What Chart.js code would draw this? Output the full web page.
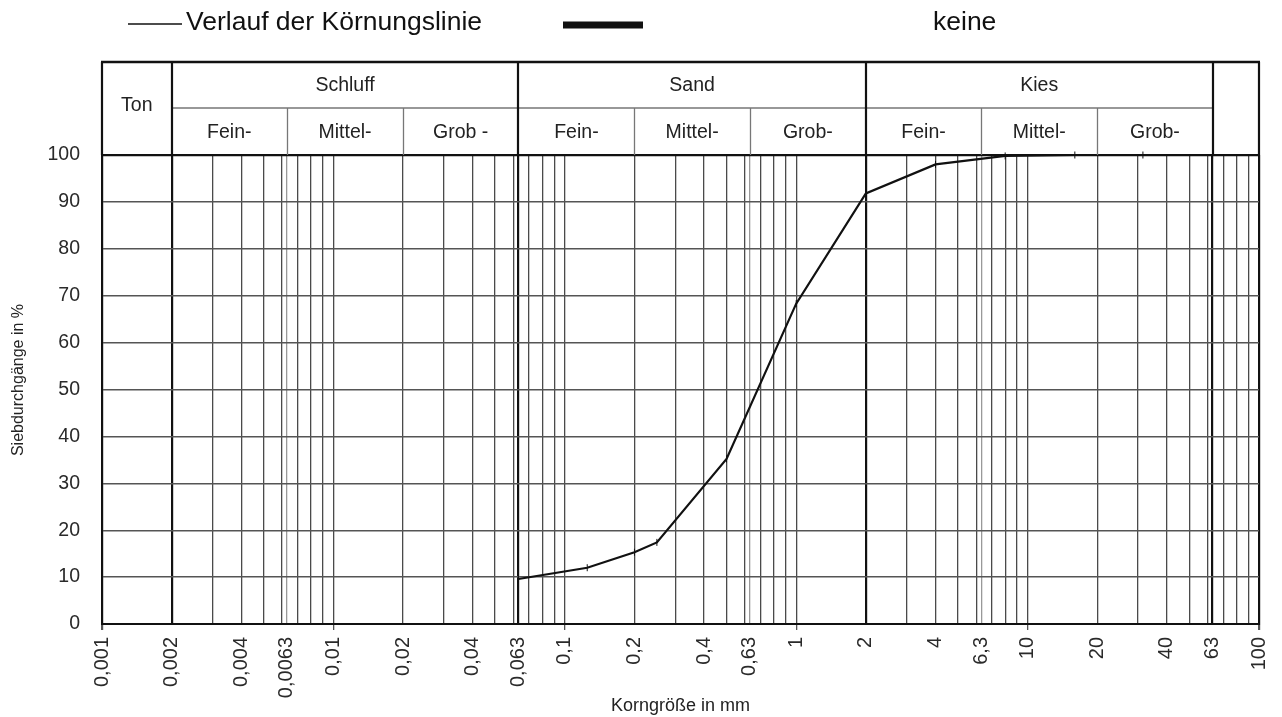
<!DOCTYPE html>
<html><head><meta charset="utf-8">
<script src="https://cdn.jsdelivr.net/npm/chart.js@4/dist/chart.umd.min.js"></script>
<style>html,body{margin:0;padding:0;background:#fff;overflow:hidden;} #wrap{width:1282px;height:717px;position:relative;} canvas{display:block;}</style>
</head><body><div id="wrap"><canvas id="c" width="1282" height="717" style="width:1282px;height:717px"></canvas></div>
<script>
// ---- data ----
const grainSizes = [0.063, 0.125, 0.2, 0.25, 0.5, 1, 2, 4, 8, 16, 31.5, 63];
const passing    = [9.6, 12.0, 15.3, 17.4, 35.2, 68.3, 91.8, 98.0, 99.8, 100, 100, 100];
const tickValues = [0.001, 0.002, 0.004, 0.0063, 0.01, 0.02, 0.04, 0.063, 0.1, 0.2, 0.4, 0.63, 1, 2, 4, 6.3, 10, 20, 40, 63, 100];
const tickLabels = ['0,001','0,002','0,004','0,0063','0,01','0,02','0,04','0,063','0,1','0,2','0,4','0,63','1','2','4','6,3','10','20','40','63','100'];
const gridValues = [0.001,0.002,0.003,0.004,0.005,0.006,0.0063,0.007,0.008,0.009,
  0.01,0.02,0.03,0.04,0.05,0.06,0.063,0.07,0.08,0.09,
  0.1,0.2,0.3,0.4,0.5,0.6,0.63,0.7,0.8,0.9,
  1,2,3,4,5,6,6.3,7,8,9,
  10,20,30,40,50,60,63,70,80,90,100];
const mainBounds  = [0.002, 0.063, 2, 63];
const lightLines  = [0.0063, 0.63, 6.3];
const decadeTicks = [0.001, 0.01, 0.1, 1, 10, 100];
const groupNames  = ['Schluff', 'Sand', 'Kies'];
const groupBounds = [0.002, 0.063, 2, 63];
const subNames    = ['Fein-','Mittel-','Grob -','Fein-','Mittel-','Grob-','Fein-','Mittel-','Grob-'];
const subBounds   = [0.002, 0.0063, 0.02, 0.063, 0.2, 0.63, 2, 6.3, 20, 63];
const clayName    = 'Ton';
const legendLabels = ['Verlauf der Körnungslinie', 'keine'];
const yTitle = 'Siebdurchgänge in %';

const FONT = "'Liberation Sans', Arial, Helvetica, sans-serif";
Chart.defaults.font.family = FONT;

const near = (a, b) => Math.abs(Math.log10(a) - Math.log10(b)) < 1e-6;
const inList = (v, list) => list.some(x => near(v, x));

const headerPlugin = {
  id: 'header',
  afterDraw(chart) {
    const ctx = chart.ctx, xs = chart.scales.x, ca = chart.chartArea;
    const top = 62, mid = 108, bot = ca.top;
    const L = ca.left, R = ca.right;
    ctx.save();
    // sub dividers
    ctx.strokeStyle = '#777'; ctx.lineWidth = 1.3;
    ctx.beginPath();
    ctx.moveTo(xs.getPixelForValue(groupBounds[0]), mid);
    ctx.lineTo(xs.getPixelForValue(groupBounds[groupBounds.length - 1]), mid);
    subBounds.forEach(v => {
      if (inList(v, groupBounds)) return;
      const px = Math.round(xs.getPixelForValue(v)) + 0.5;
      ctx.moveTo(px, mid); ctx.lineTo(px, bot);
    });
    ctx.stroke();
    // main verticals
    ctx.strokeStyle = '#111'; ctx.lineWidth = 2.2;
    ctx.beginPath();
    [L, ...groupBounds.map(v => xs.getPixelForValue(v)), R].forEach(px => {
      px = Math.round(px);
      ctx.moveTo(px, top); ctx.lineTo(px, bot);
    });
    ctx.stroke();
    ctx.lineWidth = 2.5;
    ctx.beginPath(); ctx.moveTo(L - 1, top); ctx.lineTo(R + 1, top); ctx.stroke();
    // texts
    ctx.fillStyle = '#222';
    ctx.font = '19.5px ' + FONT;
    ctx.textAlign = 'center'; ctx.textBaseline = 'middle';
    ctx.fillText(clayName, (L + xs.getPixelForValue(groupBounds[0])) / 2, (top + bot) / 2 - 3);
    groupNames.forEach((n, i) => {
      const a = xs.getPixelForValue(groupBounds[i]), b = xs.getPixelForValue(groupBounds[i + 1]);
      ctx.fillText(n, (a + b) / 2, (top + mid) / 2 + 1);
    });
    subNames.forEach((n, i) => {
      const a = xs.getPixelForValue(subBounds[i]), b = xs.getPixelForValue(subBounds[i + 1]);
      ctx.fillText(n, (a + b) / 2, (mid + bot) / 2 + 1);
    });
    // y axis title
    ctx.save();
    ctx.font = '16px ' + FONT;
    ctx.translate(19, 380);
    ctx.rotate(-Math.PI / 2);
    ctx.fillText(yTitle, 0, 0);
    ctx.restore();
    // legend
    ctx.fillStyle = '#111';
    ctx.strokeStyle = '#111';
    ctx.lineWidth = 1.6;
    ctx.beginPath(); ctx.moveTo(128, 24); ctx.lineTo(182, 24); ctx.stroke();
    ctx.font = '26.5px ' + FONT;
    ctx.textAlign = 'left';
    ctx.fillText(legendLabels[0], 186, 23);
    ctx.lineWidth = 7;
    ctx.beginPath(); ctx.moveTo(563, 25); ctx.lineTo(643, 25); ctx.stroke();
    ctx.fillText(legendLabels[1], 933, 23);
    ctx.restore();
  }
};

new Chart(document.getElementById('c'), {
  type: 'scatter',
  data: {
    datasets: [{
      label: legendLabels[0],
      data: grainSizes.map((g, i) => ({ x: g, y: passing[i] })),
      showLine: true,
      tension: 0,
      borderColor: '#111',
      borderWidth: 2.2,
      pointStyle: 'line',
      rotation: 90,
      pointRadius: 3.5,
      pointBorderWidth: 1,
      pointBorderColor: '#111',
      pointHoverRadius: 3.5,
      clip: 6
    }]
  },
  options: {
    responsive: false,
    animation: false,
    devicePixelRatio: 1,
    layout: { padding: { left: 0, right: 23, top: 155, bottom: 0 } },
    plugins: { legend: { display: false }, tooltip: { enabled: false } },
    scales: {
      x: {
        type: 'logarithmic',
        min: 0.001, max: 100,
        afterBuildTicks: s => { s.ticks = gridValues.map(v => ({ value: v })); },
        afterFit: s => { s.height = 93; s.paddingLeft = 0; s.paddingRight = 0; },
        ticks: {
          autoSkip: false, maxRotation: 90, minRotation: 90,
          font: { size: 20 }, color: '#2a2a2a', padding: 7,
          callback: v => { const i = tickValues.findIndex(t => near(t, v)); return i >= 0 ? tickLabels[i] : ''; }
        },
        grid: {
          color: c => { const v = c.tick && c.tick.value; if (v == null) return '#555';
            if (inList(v, mainBounds) || near(v, 100) || near(v, 0.001)) return '#111';
            if (inList(v, lightLines)) return '#999'; return '#4a4a4a'; },
          lineWidth: c => { const v = c.tick && c.tick.value; if (v == null) return 1;
            if (inList(v, mainBounds) || near(v, 100) || near(v, 0.001)) return 2.2; return 1.3; },
          drawTicks: true, tickLength: 6,
          tickColor: c => (c.tick && inList(c.tick.value, decadeTicks)) ? '#555' : 'rgba(0,0,0,0)'
        },
        border: { display: true, color: '#111', width: 2 },
        title: { display: true, text: 'Korngröße in mm', font: { size: 18 }, color: '#222', padding: { top: 0, bottom: 0 } }
      },
      y: {
        min: 0, max: 100,
        afterFit: s => { s.width = 102; s.paddingTop = 0; s.paddingBottom = 0; },
        ticks: { stepSize: 10, font: { size: 19.5 }, color: '#2a2a2a', padding: 22 },
        grid: {
          color: c => (c.tick && c.tick.value === 100) ? '#111' : '#555',
          lineWidth: c => (c.tick && c.tick.value === 100) ? 2.2 : 1.4,
          drawTicks: false
        },
        border: { display: true, color: '#111', width: 2 },
        title: { display: false }
      }
    }
  },
  plugins: [headerPlugin]
});
</script>
</body></html>
